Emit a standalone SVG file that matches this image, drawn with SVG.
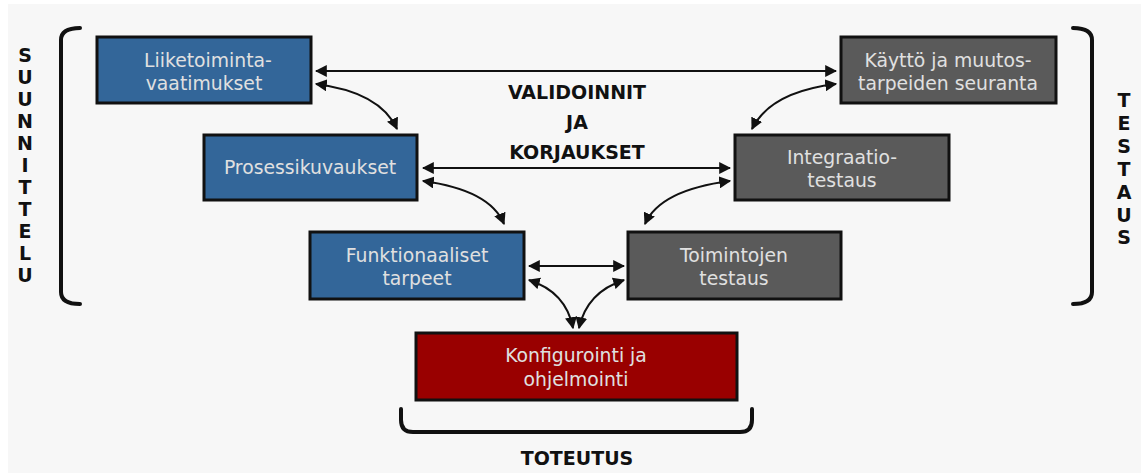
<svg xmlns="http://www.w3.org/2000/svg" width="1141" height="473" viewBox="0 0 1141 473">
  <style>
    .box { stroke: #111; stroke-width: 3; }
    .blue { fill: #336699; }
    .grey { fill: #5a5a5a; }
    .red { fill: #990000; }
    .lbl { font-family: "DejaVu Sans", Verdana, sans-serif; font-size: 18.8px; fill: #e0e0e0; text-anchor: middle; }
    .hd { font-family: "DejaVu Sans", Verdana, sans-serif; font-size: 19px; font-weight: bold; fill: #111; text-anchor: middle; }
    .br { fill: none; stroke: #111; stroke-width: 4; stroke-linecap: round; }
    .ln { fill: none; stroke: #111; stroke-width: 2; marker-start: url(#ah); marker-end: url(#ah); }
  </style>
  <defs>
    <marker id="ah" viewBox="0 0 10 10" refX="9" refY="5" markerWidth="6" markerHeight="6" orient="auto-start-reverse" markerUnits="strokeWidth">
      <path d="M0,0 L10,5 L0,10 z" fill="#111"/>
    </marker>
  </defs>

  <rect x="0" y="0" width="1141" height="473" fill="#ffffff"/>
  <rect x="8" y="4" width="1133" height="469" fill="#f7f7f7"/>

  <!-- brackets -->
  <g id="brackets">
    <path class="br" d="M80,28 Q61,28 61,40 L61,292 Q61,304 80,304"/>
    <path class="br" d="M1073,28 Q1092,28 1092,40 L1092,292 Q1092,304 1073,304"/>
    <path class="br" d="M401,409 L401,420 Q401,432 413,432 L740,432 Q752,432 752,420 L752,409"/>
  </g>

  <!-- side and bottom headings -->
  <g id="suunnittelu" class="hd">
    <text x="25" y="62">S</text>
    <text x="25" y="84">U</text>
    <text x="25" y="106">U</text>
    <text x="25" y="128">N</text>
    <text x="25" y="150">N</text>
    <text x="25" y="172">I</text>
    <text x="25" y="194">T</text>
    <text x="25" y="216">T</text>
    <text x="25" y="238">E</text>
    <text x="25" y="260">L</text>
    <text x="25" y="282">U</text>
  </g>
  <g id="testaus" class="hd">
    <text x="1124" y="107">T</text>
    <text x="1124" y="130">E</text>
    <text x="1124" y="153">S</text>
    <text x="1124" y="176">T</text>
    <text x="1124" y="199">A</text>
    <text x="1124" y="222">U</text>
    <text x="1124" y="244">S</text>
  </g>
  <g id="validoinnit" class="hd">
    <text x="577" y="99">VALIDOINNIT</text>
    <text x="577" y="129">JA</text>
    <text x="577" y="159">KORJAUKSET</text>
  </g>
  <g id="toteutus" class="hd">
    <text x="577" y="465">TOTEUTUS</text>
  </g>

  <!-- connectors -->
  <g id="connectors">
    <line class="ln" x1="316" y1="71" x2="836" y2="71"/>
    <path class="ln" d="M316,84 Q380,92 397,129"/>
    <path class="ln" d="M836,84 Q770,92 752,129"/>
    <line class="ln" x1="423" y1="168" x2="730" y2="168"/>
    <path class="ln" d="M423,181 Q490,190 504,224"/>
    <path class="ln" d="M730,181 Q660,190 645,224"/>
    <line class="ln" x1="529" y1="266" x2="624" y2="266"/>
    <path class="ln" d="M529,280 Q566,292 573,328"/>
    <path class="ln" d="M624,280 Q587,292 579,328"/>
  </g>

  <!-- nodes -->
  <g id="liiketoimintavaatimukset">
    <rect class="box blue" x="97" y="37" width="214" height="66"/>
    <text class="lbl" x="208" y="67">Liiketoiminta-</text>
    <text class="lbl" x="204" y="90">vaatimukset</text>
  </g>
  <g id="prosessikuvaukset">
    <rect class="box blue" x="204" y="135" width="213" height="65"/>
    <text class="lbl" x="310" y="174">Prosessikuvaukset</text>
  </g>
  <g id="funktionaaliset-tarpeet">
    <rect class="box blue" x="310" y="232" width="214" height="67"/>
    <text class="lbl" x="417" y="262">Funktionaaliset</text>
    <text class="lbl" x="417" y="285">tarpeet</text>
  </g>
  <g id="kaytto-ja-muutostarpeiden-seuranta">
    <rect class="box grey" x="841" y="37" width="215" height="66"/>
    <text class="lbl" x="948" y="67">Käyttö ja muutos-</text>
    <text class="lbl" x="948" y="90">tarpeiden seuranta</text>
  </g>
  <g id="integraatiotestaus">
    <rect class="box grey" x="735" y="135" width="214" height="65"/>
    <text class="lbl" x="842" y="164">Integraatio-</text>
    <text class="lbl" x="842" y="187">testaus</text>
  </g>
  <g id="toimintojen-testaus">
    <rect class="box grey" x="628" y="232" width="213" height="67"/>
    <text class="lbl" x="734" y="262">Toimintojen</text>
    <text class="lbl" x="734" y="285">testaus</text>
  </g>
  <g id="konfigurointi-ja-ohjelmointi">
    <rect class="box red" x="416" y="333" width="321" height="67"/>
    <text class="lbl" x="576" y="362">Konfigurointi ja</text>
    <text class="lbl" x="576" y="386">ohjelmointi</text>
  </g>
</svg>
